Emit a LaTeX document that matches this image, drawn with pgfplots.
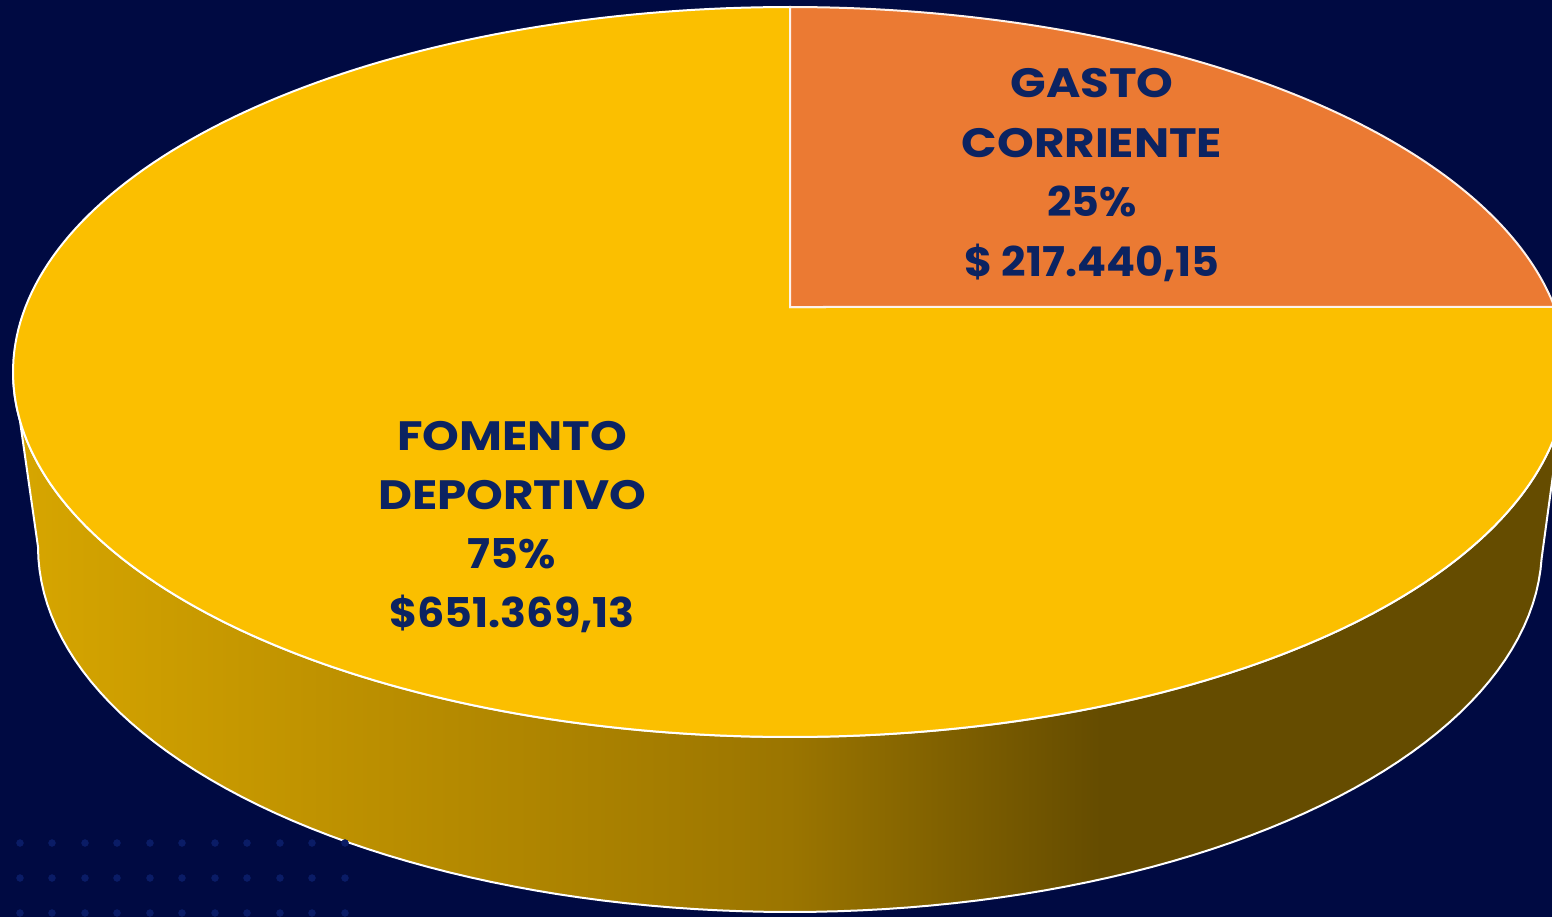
\documentclass[border=0pt]{standalone}
\usepackage{fontspec}
\setmainfont{Poppins}
\newfontfamily\wordfont[FakeStretch=1.14]{Poppins}
\newfontfamily\numfont[FakeStretch=1.045]{Poppins}
\usepackage{pgfplots}
\pgfplotsset{compat=1.18}
\usepackage{pgfplotstable}
\definecolor{bg}{HTML}{000A42}
\definecolor{yel}{HTML}{FBBF00}
\definecolor{ora}{HTML}{EB7A33}
\definecolor{txt}{HTML}{0C2361}
\definecolor{dotc}{HTML}{0A1C66}
\definecolor{sideA}{RGB}{215,166,0}
\definecolor{sideB}{RGB}{186,142,0}
\definecolor{sideC}{RGB}{155,117,0}
\definecolor{sideD}{RGB}{101,76,0}
\pgfdeclarehorizontalshading{sideshade}{100bp}{color(0bp)=(sideA); color(25bp)=(sideA); color(37bp)=(sideB); color(50bp)=(sideC); color(60bp)=(sideD); color(100bp)=(sideD)}
% values of the two slices
\pgfplotstableread{
slice value percent
GastoCorriente 217440.15 25
FomentoDeportivo 651369.13 75
}\slices
\begin{document}
\begin{tikzpicture}
\begin{axis}[
  width=1552pt, height=917pt, scale only axis,
  xmin=0, xmax=1552, ymin=0, ymax=917,
  y dir=reverse,
  axis lines=none, xtick=\empty, ytick=\empty,
  clip=true,
]
% background
\addplot[fill=bg, draw=none] coordinates {(0,0) (1552,0) (1552,917) (0,917)} -- cycle;
% decorative dots
\addplot[only marks, mark=*, mark size=3.5pt, color=dotc] coordinates {
(20,843)(52,843)(85,843)(117,843)(150,843)(182,843)(215,843)(247,843)(280,843)(312,843)(345,843)
(20,878)(52,878)(85,878)(117,878)(150,878)(182,878)(215,878)(247,878)(280,878)(312,878)(345,878)
(20,913)(52,913)(85,913)(117,913)(150,913)(182,913)(215,913)(247,913)(280,913)(312,913)(345,913)
};
% side of the pie
\addplot[shading=sideshade, draw=white, line width=2pt, domain=180:540, samples=201, variable=\t]
  ({\t<=360 ? 790+777*cos(\t) : 790+752*cos(720-\t)},
   {\t<=360 ? 372-365*sin(\t) : 547-365*sin(720-\t)}) -- cycle;
% FOMENTO DEPORTIVO (75%)
\addplot[fill=yel, draw=white, line width=2pt, domain=90:370.26, samples=240, variable=\t]
  ({790+777*cos(\t)},{372-365*sin(\t)}) -- (axis cs:790,307) -- cycle;
% GASTO CORRIENTE (25%)
\addplot[fill=ora, draw=white!90!ora, line width=2pt, domain=10.26:90, samples=100, variable=\t]
  ({790+777*cos(\t)},{372-365*sin(\t)}) -- (axis cs:790,307) -- cycle;
\node[align=center, text=txt, font=\bfseries\fontsize{41}{59.5}\selectfont] at (axis cs:1092,175)
  {{\wordfont\bfseries GASTO}\\{\wordfont\bfseries CORRIENTE}\\{\numfont\bfseries 25\%}\\{\numfont\bfseries\$ 217.440,15}};
\node[align=center, text=txt, font=\bfseries\fontsize{41}{59}\selectfont] at (axis cs:512,527)
  {{\wordfont\bfseries FOMENTO}\\{\wordfont\bfseries DEPORTIVO}\\{\numfont\bfseries 75\%}\\{\numfont\bfseries\$651.369,13}};
\end{axis}
\end{tikzpicture}
\end{document}
